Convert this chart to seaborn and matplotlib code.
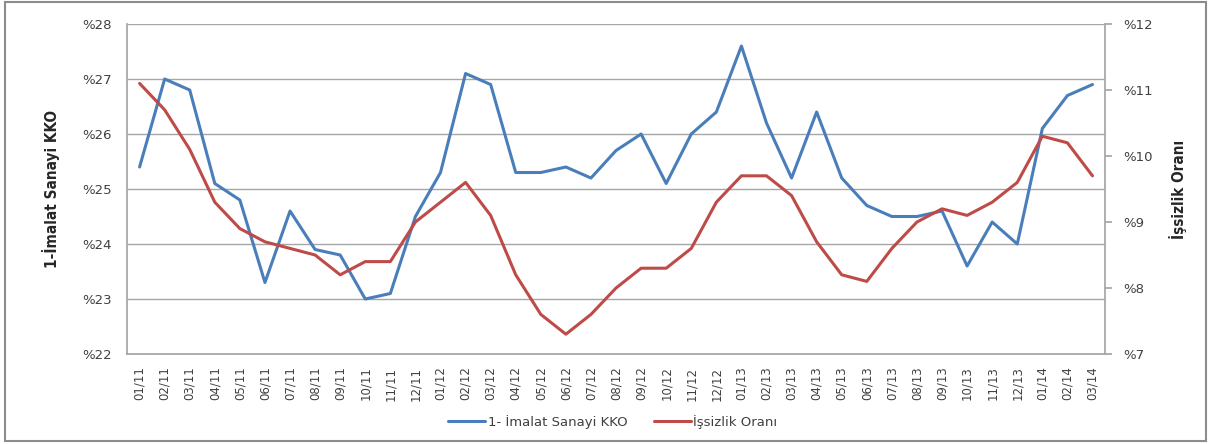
import matplotlib
matplotlib.use("Agg")
import matplotlib.pyplot as plt
import seaborn as sns
import pandas as pd
from matplotlib.patches import Rectangle
from matplotlib.ticker import FuncFormatter
from matplotlib import font_manager

months = ["01/11", "02/11", "03/11", "04/11", "05/11", "06/11", "07/11", "08/11", "09/11", "10/11", "11/11", "12/11",
          "01/12", "02/12", "03/12", "04/12", "05/12", "06/12", "07/12", "08/12", "09/12", "10/12", "11/12", "12/12",
          "01/13", "02/13", "03/13", "04/13", "05/13", "06/13", "07/13", "08/13", "09/13", "10/13", "11/13", "12/13",
          "01/14", "02/14", "03/14"]
kko = [25.4, 27.0, 26.8, 25.1, 24.8, 23.3, 24.6, 23.9, 23.8, 23.0, 23.1, 24.5,
       25.3, 27.1, 26.9, 25.3, 25.3, 25.4, 25.2, 25.7, 26.0, 25.1, 26.0, 26.4,
       27.6, 26.2, 25.2, 26.4, 25.2, 24.7, 24.5, 24.5, 24.6, 23.6, 24.4, 24.0,
       26.1, 26.7, 26.9]
issizlik = [11.1, 10.7, 10.1, 9.3, 8.9, 8.7, 8.6, 8.5, 8.2, 8.4, 8.4, 9.0,
            9.3, 9.6, 9.1, 8.2, 7.6, 7.3, 7.6, 8.0, 8.3, 8.3, 8.6, 9.3,
            9.7, 9.7, 9.4, 8.7, 8.2, 8.1, 8.6, 9.0, 9.2, 9.1, 9.3, 9.6,
            10.3, 10.2, 9.7]
left_ticks = [22, 23, 24, 25, 26, 27, 28]
right_ticks = [7, 8, 9, 10, 11, 12]

name_kko = "1- İmalat Sanayi KKO"
name_iss = "İşsizlik Oranı"

sns.set_theme(style="white")
plt.rcParams['font.family'] = ['DejaVu Sans']

df = pd.DataFrame({"ay": months, "kko": kko, "iss": issizlik})
df["pos"] = range(len(months))

fig = plt.figure(figsize=(12.11, 4.44), dpi=100)
ax = fig.add_axes([0.1049, 0.2027, 0.8076, 0.7432])
ax2 = ax.twinx()

blue = "#4A7EBB"
red = "#BE4B48"
sns.lineplot(data=df, x="pos", y="kko", ax=ax, color=blue, lw=2.2, label=name_kko, legend=False)
sns.lineplot(data=df, x="pos", y="iss", ax=ax2, color=red, lw=2.2, label=name_iss, legend=False)

ax.set_xlim(-0.5, len(months) - 0.5)
ax.set_ylim(22, 28)
ax2.set_ylim(7, 12)
ax.set_yticks(left_ticks)
ax2.set_yticks(right_ticks)
fmt = FuncFormatter(lambda v, p: "%" + f"{v:g}")
ax.yaxis.set_major_formatter(fmt)
ax2.yaxis.set_major_formatter(fmt)
ax.set_xticks(list(df["pos"]))
ax.set_xticklabels(months, rotation=90, fontsize=8.5, color="#404040")

ax.grid(axis="y", color="#a6a6a6", lw=1)
ax.grid(axis="x", visible=False)
ax2.grid(False)
ax.set_axisbelow(True)

for a in (ax, ax2):
    for s in a.spines.values():
        s.set_visible(False)
ax.spines["left"].set_visible(True)
ax.spines["left"].set_color("#a6a6a6")
ax.spines["bottom"].set_visible(True)
ax.spines["bottom"].set_color("#a6a6a6")
ax2.spines["right"].set_visible(True)
ax2.spines["right"].set_color("#a6a6a6")

ax.tick_params(axis="y", labelsize=9.5, labelcolor="#404040", length=0, pad=11)
ax.tick_params(axis="x", length=0, pad=9)
ax2.tick_params(axis="y", labelsize=9.5, labelcolor="#404040", length=5, color="#a6a6a6", direction="out", pad=8, right=True)

names = {f.name for f in font_manager.fontManager.ttflist}
if 'Liberation Sans Narrow' in names:
    lbl_kw = dict(family='Liberation Sans Narrow', fontsize=11.5)
else:
    lbl_kw = dict(family='DejaVu Sans', fontstretch='condensed', fontsize=11)

ax.set_xlabel("")
ax.set_ylabel("1-İmalat Sanayi KKO", fontweight="bold", labelpad=16, **lbl_kw)
ax2.set_ylabel("İşsizlik Oranı", fontweight="bold", labelpad=12, **lbl_kw)

h1, l1 = ax.get_legend_handles_labels()
h2, l2 = ax2.get_legend_handles_labels()
fig.legend(h1 + h2, l1 + l2, loc="center", bbox_to_anchor=(0.506, 0.05), ncol=2, frameon=False,
           fontsize=9.5, handlelength=2.8, columnspacing=2.0, handletextpad=0.2, labelcolor="#404040")

fig.patches.append(Rectangle((0.004, 0.006), 0.992, 0.99, transform=fig.transFigure,
                             fill=False, edgecolor="#8c8c8c", lw=1.5))

fig.savefig("out.png", dpi=100)
